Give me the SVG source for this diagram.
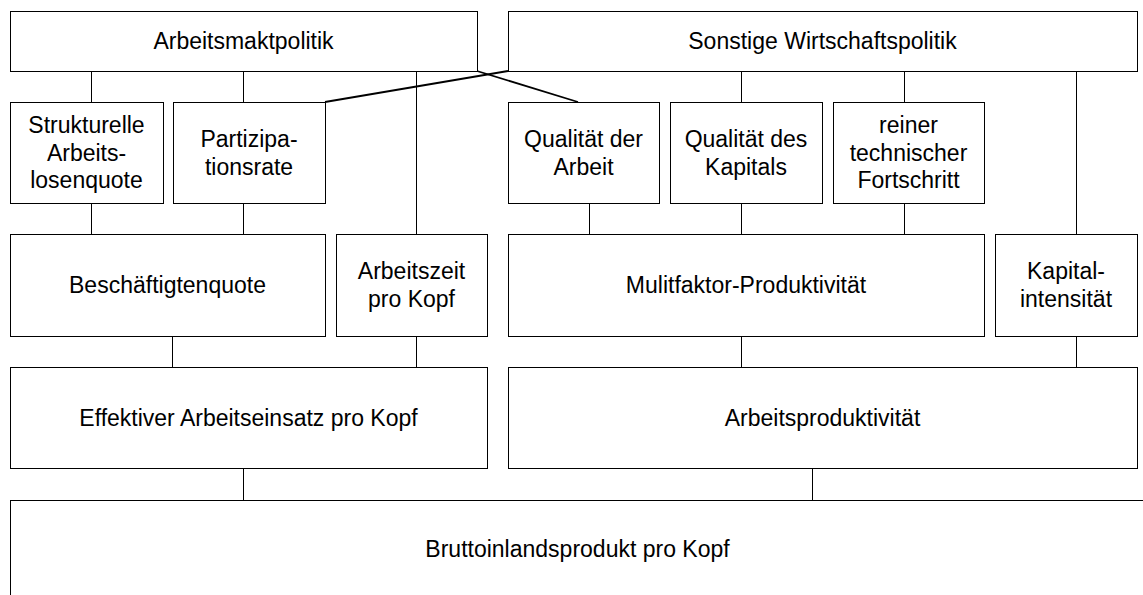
<svg xmlns="http://www.w3.org/2000/svg" width="1143" height="595" viewBox="0 0 1143 595">
<style>
rect{fill:#fff;stroke:#000;stroke-width:1}
text{font-family:"Liberation Sans",Arial,sans-serif;font-size:23px;fill:#000;text-anchor:middle}
.c line{stroke:#000;stroke-width:1}
.c .d{stroke-width:1.8}
</style>
<rect x="0" y="0" width="1143" height="595" style="stroke:none"/>
<g class="c" id="connectors">
<line x1="91.5" y1="71" x2="91.5" y2="102"/>
<line x1="243.5" y1="71" x2="243.5" y2="102"/>
<line x1="416.5" y1="71" x2="416.5" y2="234"/>
<line x1="741.5" y1="71" x2="741.5" y2="102"/>
<line x1="904.5" y1="71" x2="904.5" y2="102"/>
<line x1="1076.5" y1="71" x2="1076.5" y2="234"/>
<line class="d" x1="325" y1="102" x2="508" y2="71"/>
<line class="d" x1="477" y1="71" x2="578" y2="102"/>
<line x1="91.5" y1="203" x2="91.5" y2="234"/>
<line x1="243.5" y1="203" x2="243.5" y2="234"/>
<line x1="589.5" y1="203" x2="589.5" y2="234"/>
<line x1="741.5" y1="203" x2="741.5" y2="234"/>
<line x1="904.5" y1="203" x2="904.5" y2="234"/>
<line x1="172.5" y1="336" x2="172.5" y2="367"/>
<line x1="416.5" y1="336" x2="416.5" y2="367"/>
<line x1="741.5" y1="336" x2="741.5" y2="367"/>
<line x1="1076.5" y1="336" x2="1076.5" y2="367"/>
<line x1="243.5" y1="468" x2="243.5" y2="500"/>
<line x1="812.5" y1="468" x2="812.5" y2="500"/>
</g>
<g id="n1"><rect x="10.5" y="11.5" width="467" height="60"/><text x="243.5" y="49">Arbeitsmaktpolitik</text></g>
<g id="n2"><rect x="508.5" y="11.5" width="629" height="60"/><text x="822.5" y="49">Sonstige Wirtschaftspolitik</text></g>
<g id="n3"><rect x="10.5" y="102.5" width="153" height="101"/><text x="86.5" y="133">Strukturelle</text><text x="86.5" y="160.5">Arbeits-</text><text x="86.5" y="188">losenquote</text></g>
<g id="n4"><rect x="173.5" y="102.5" width="152" height="101"/><text x="249" y="147">Partizipa-</text><text x="249" y="174.5">tionsrate</text></g>
<g id="n5"><rect x="508.5" y="102.5" width="151" height="101"/><text x="583.5" y="147">Qualität der</text><text x="583.5" y="174.5">Arbeit</text></g>
<g id="n6"><rect x="670.5" y="102.5" width="152" height="101"/><text x="746" y="147">Qualität des</text><text x="746" y="174.5">Kapitals</text></g>
<g id="n7"><rect x="833.5" y="102.5" width="151" height="101"/><text x="908.5" y="133">reiner</text><text x="908.5" y="160.5">technischer</text><text x="908.5" y="188">Fortschritt</text></g>
<g id="n8"><rect x="10.5" y="234.5" width="315" height="102"/><text x="167.5" y="293">Beschäftigtenquote</text></g>
<g id="n9"><rect x="336.5" y="234.5" width="151" height="102"/><text x="411.5" y="279">Arbeitszeit</text><text x="411.5" y="306.5">pro Kopf</text></g>
<g id="n10"><rect x="508.5" y="234.5" width="476" height="102"/><text x="746" y="293">Mulitfaktor-Produktivität</text></g>
<g id="n11"><rect x="995.5" y="234.5" width="142" height="102"/><text x="1066" y="279">Kapital-</text><text x="1066" y="306.5">intensität</text></g>
<g id="n12"><rect x="10.5" y="367.5" width="477" height="101"/><text x="248.5" y="425.5">Effektiver Arbeitseinsatz pro Kopf</text></g>
<g id="n13"><rect x="508.5" y="367.5" width="629" height="101"/><text x="822.5" y="425.5">Arbeitsproduktivität</text></g>
<g id="n14"><rect x="10.5" y="500.5" width="1140" height="110"/><text x="577.5" y="557">Bruttoinlandsprodukt pro Kopf</text></g>
</svg>
